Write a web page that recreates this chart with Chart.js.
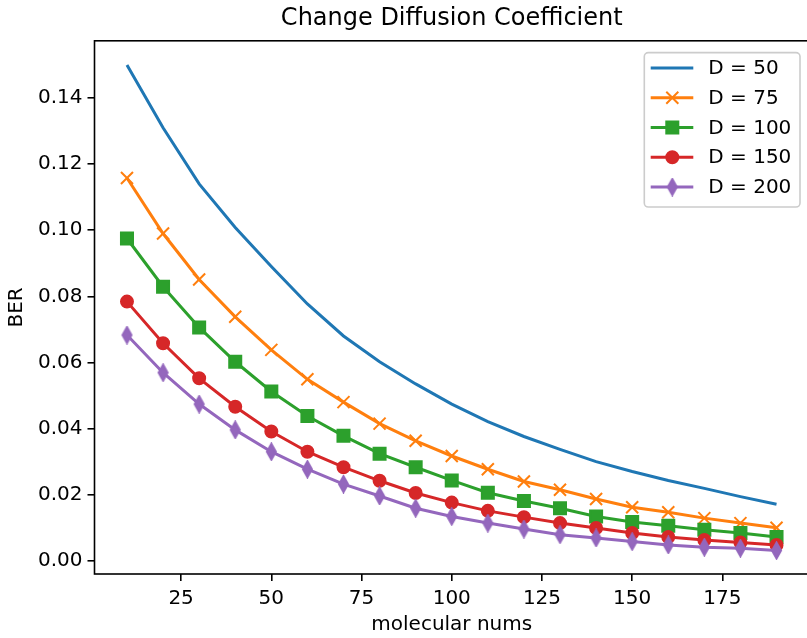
<!DOCTYPE html>
<html>
<head>
<meta charset="utf-8">
<script src="https://cdn.jsdelivr.net/npm/chart.js@4.4.0/dist/chart.umd.min.js"></script>
<style>
  html, body { margin: 0; padding: 0; background: #fff; overflow: hidden; }
  #wrap { width: 810px; height: 638px; }
</style>
</head>
<body>
<div id="wrap"><canvas id="diffusion" width="810" height="638"></canvas></div>
<script>
// molecular nums on the x axis
var molecularNums = [10, 20, 30, 40, 50, 60, 70, 80, 90, 100, 110, 120, 130, 140, 150, 160, 170, 180, 190];

// BER per diffusion coefficient
var berD50  = [0.1500, 0.1310, 0.1140, 0.1008, 0.0890, 0.0777, 0.0680, 0.0602, 0.0535, 0.0474, 0.0421, 0.0376, 0.0337, 0.0300, 0.0270, 0.0243, 0.0219, 0.0194, 0.0171];
var berD75  = [0.1158, 0.0990, 0.0851, 0.0738, 0.0638, 0.0549, 0.0480, 0.0415, 0.0363, 0.0317, 0.0277, 0.0240, 0.0215, 0.0187, 0.0162, 0.0147, 0.0129, 0.0114, 0.0100];
var berD100 = [0.0975, 0.0829, 0.0706, 0.0602, 0.0512, 0.0438, 0.0378, 0.0324, 0.0283, 0.0243, 0.0206, 0.0181, 0.0159, 0.0134, 0.0117, 0.0106, 0.0094, 0.0084, 0.0072];
var berD150 = [0.0784, 0.0658, 0.0552, 0.0466, 0.0391, 0.0330, 0.0283, 0.0242, 0.0205, 0.0176, 0.0151, 0.0132, 0.0114, 0.0099, 0.0084, 0.0072, 0.0063, 0.0055, 0.0048];
var berD200 = [0.0683, 0.0569, 0.0474, 0.0396, 0.0330, 0.0277, 0.0232, 0.0196, 0.0159, 0.0134, 0.0114, 0.0096, 0.0079, 0.0069, 0.0058, 0.0048, 0.0041, 0.0038, 0.0031];

var seriesLabels = ['D = 50', 'D = 75', 'D = 100', 'D = 150', 'D = 200'];

var xTicks = [25, 50, 75, 100, 125, 150, 175];
var yTicks = [0.00, 0.02, 0.04, 0.06, 0.08, 0.10, 0.12, 0.14];

var cores = ['#1f77b4', '#ff7f0e', '#2ca02c', '#d62728', '#9467bd'];

Chart.defaults.font.family = "'DejaVu Sans', sans-serif";
Chart.defaults.font.size = 20;
Chart.defaults.color = '#000';

// thin diamond marker (matplotlib 'd')
function thinDiamond(color) {
    var c = document.createElement('canvas');
    c.width = 13;
    c.height = 19;
    var g = c.getContext('2d');
    g.beginPath();
    g.moveTo(6.5, 1.5);
    g.lineTo(11, 9.5);
    g.lineTo(6.5, 17.5);
    g.lineTo(2, 9.5);
    g.closePath();
    g.fillStyle = color;
    g.strokeStyle = color;
    g.lineWidth = 2;
    g.lineJoin = 'miter';
    g.fill();
    g.stroke();
    return c;
}

function pontos(ys) {
    return molecularNums.map(function (x, i) { return { x: x, y: ys[i] }; });
}

var marcadores = [
    { style: 'circle', radius: 0 },
    { style: 'crossRot', radius: 8.5 },
    { style: 'rect', radius: 8.5 },
    { style: 'circle', radius: 6 },
    { style: thinDiamond(cores[4]), radius: 8 }
];

var series = [berD50, berD75, berD100, berD150, berD200];

var datasets = series.map(function (ys, i) {
    return {
        label: seriesLabels[i],
        data: pontos(ys),
        borderColor: cores[i],
        backgroundColor: cores[i],
        borderWidth: 3,
        tension: 0,
        fill: false,
        pointStyle: marcadores[i].style,
        pointRadius: marcadores[i].radius,
        pointHoverRadius: marcadores[i].radius,
        pointBackgroundColor: cores[i],
        pointBorderColor: cores[i],
        pointBorderWidth: 2,
        order: series.length - i
    };
});

// axes frame like matplotlib spines
var moldura = {
    id: 'moldura',
    afterDatasetsDraw: function (chart) {
        var a = chart.chartArea, ctx = chart.ctx;
        ctx.save();
        ctx.strokeStyle = '#000';
        ctx.lineWidth = 1.6;
        ctx.strokeRect(a.left, a.top, a.right - a.left, a.bottom - a.top);
        ctx.restore();
    }
};

// legend with line + marker samples
var legenda = {
    id: 'legenda',
    afterDraw: function (chart) {
        var a = chart.chartArea, ctx = chart.ctx;
        var x1 = a.right - 164.7, y1 = a.top + 11.8, w = 155.7, h = 154.4, r = 4;
        ctx.save();
        ctx.beginPath();
        ctx.moveTo(x1 + r, y1);
        ctx.arcTo(x1 + w, y1, x1 + w, y1 + h, r);
        ctx.arcTo(x1 + w, y1 + h, x1, y1 + h, r);
        ctx.arcTo(x1, y1 + h, x1, y1, r);
        ctx.arcTo(x1, y1, x1 + w, y1, r);
        ctx.closePath();
        ctx.fillStyle = 'rgba(255,255,255,0.8)';
        ctx.fill();
        ctx.strokeStyle = '#cccccc';
        ctx.lineWidth = 1.6;
        ctx.stroke();

        chart.data.datasets.forEach(function (ds, i) {
            var y = y1 + 15.4 + i * 29.75;
            ctx.beginPath();
            ctx.moveTo(x1 + 6.4, y);
            ctx.lineTo(x1 + 49, y);
            ctx.strokeStyle = ds.borderColor;
            ctx.lineWidth = ds.borderWidth;
            ctx.stroke();
            if (ds.pointRadius > 0) {
                ctx.fillStyle = ds.pointBackgroundColor;
                ctx.strokeStyle = ds.pointBorderColor;
                ctx.lineWidth = ds.pointBorderWidth;
                Chart.helpers.drawPoint(ctx, {
                    pointStyle: ds.pointStyle,
                    radius: ds.pointRadius,
                    rotation: 0,
                    borderWidth: ds.pointBorderWidth
                }, x1 + 28, y);
            }
            ctx.fillStyle = '#000';
            ctx.font = "20px 'DejaVu Sans', sans-serif";
            ctx.textAlign = 'left';
            ctx.textBaseline = 'middle';
            ctx.fillText(ds.label, x1 + 64, y + 1);
        });
        ctx.restore();
    }
};

var config = {
    type: 'line',
    data: { datasets: datasets },
    options: {
        responsive: false,
        animation: false,
        devicePixelRatio: 1,
        layout: { autoPadding: false, padding: { left: 0, right: 1, top: 0, bottom: 0 } },
        plugins: {
            legend: { display: false },
            tooltip: { enabled: false },
            title: {
                display: true,
                text: 'Change Diffusion Coefficient',
                fullSize: false,
                color: '#000',
                font: { size: 24, weight: 'normal' },
                padding: { top: 4, bottom: 8 }
            }
        },
        scales: {
            x: {
                type: 'linear',
                min: 1,
                max: 199,
                afterBuildTicks: function (scale) {
                    scale.ticks = xTicks.map(function (v) { return { value: v }; });
                },
                afterFit: function (scale) {
                    scale.height = 64;
                    scale.paddingLeft = 0;
                    scale.paddingRight = 0;
                },
                ticks: { autoSkip: false, maxRotation: 0, padding: 6, color: '#000' },
                grid: { drawOnChartArea: false, drawTicks: true, tickLength: 7, color: '#000', lineWidth: 1.6 },
                border: { display: false },
                title: { display: true, text: 'molecular nums', color: '#000', font: { size: 20 }, padding: { top: 0, bottom: 1 } }
            },
            y: {
                type: 'linear',
                min: -0.0040,
                max: 0.1573,
                afterBuildTicks: function (scale) {
                    scale.ticks = yTicks.map(function (v) { return { value: v }; });
                },
                afterFit: function (scale) {
                    scale.width = 94.5;
                    scale.paddingTop = 0;
                    scale.paddingBottom = 0;
                },
                ticks: {
                    padding: 5,
                    color: '#000',
                    callback: function (v) { return Number(v).toFixed(2); }
                },
                grid: { drawOnChartArea: false, drawTicks: true, tickLength: 7, color: '#000', lineWidth: 1.6 },
                border: { display: false },
                title: { display: true, text: 'BER', color: '#000', font: { size: 20 }, padding: { top: 5, bottom: 0 } }
            }
        }
    },
    plugins: [moldura, legenda]
};

window.porDifusao = new Chart(document.getElementById('diffusion'), config);
</script>
</body>
</html>
